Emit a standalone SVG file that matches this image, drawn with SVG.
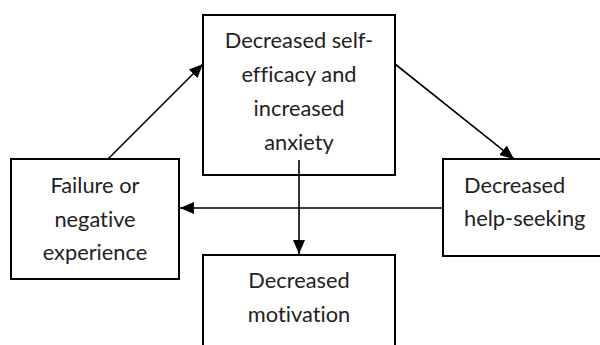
<svg xmlns="http://www.w3.org/2000/svg" width="600" height="345" viewBox="0 0 600 345">
<style>
.box{fill:#fff;stroke:#000;stroke-width:2}
.t{font-family:Lato,"Open Sans","Liberation Sans",sans-serif;font-size:21.8px;fill:#222;font-variant-ligatures:none;font-feature-settings:"liga" 0,"dlig" 0}
.c{text-anchor:middle}
.ln{stroke:#000;stroke-width:1.6;fill:none}
</style>
<defs>
<marker id="ah" viewBox="0 0 14 12" refX="14" refY="6" markerWidth="14" markerHeight="12" markerUnits="userSpaceOnUse" orient="auto">
<path d="M0,0 L14,6 L0,12 Z" fill="#000"/>
</marker>
</defs>
<rect width="600" height="345" fill="#fff"/>
<g id="node-top">
<rect class="box" x="203" y="15" width="192" height="160"/>
<text class="t c" x="299" y="48">Decreased self-</text>
<text class="t c" x="299" y="82">efficacy and</text>
<text class="t c" x="299" y="116">increased</text>
<text class="t c" x="299" y="150">anxiety</text>
</g>
<g id="node-left">
<rect class="box" x="11" y="159" width="168" height="120"/>
<text class="t c" x="95" y="193">Failure or</text>
<text class="t c" x="95" y="227">negative</text>
<text class="t c" x="95" y="260">experience</text>
</g>
<g id="node-right">
<rect class="box" x="443" y="159" width="160" height="97"/>
<text class="t" x="464" y="193">Decreased</text>
<text class="t" x="464" y="226">help-seeking</text>
</g>
<g id="node-bottom">
<rect class="box" x="203" y="255" width="192" height="100"/>
<text class="t c" x="299" y="288">Decreased</text>
<text class="t c" x="299" y="322">motivation</text>
</g>
<g id="connectors">
<line class="ln" x1="108" y1="159" x2="203" y2="64" marker-end="url(#ah)"/>
<line class="ln" x1="395" y1="64" x2="514" y2="159" marker-end="url(#ah)"/>
<line class="ln" x1="299" y1="160" x2="299" y2="254" marker-end="url(#ah)"/>
<line class="ln" x1="443" y1="208" x2="180" y2="208" marker-end="url(#ah)"/>
</g>
</svg>
